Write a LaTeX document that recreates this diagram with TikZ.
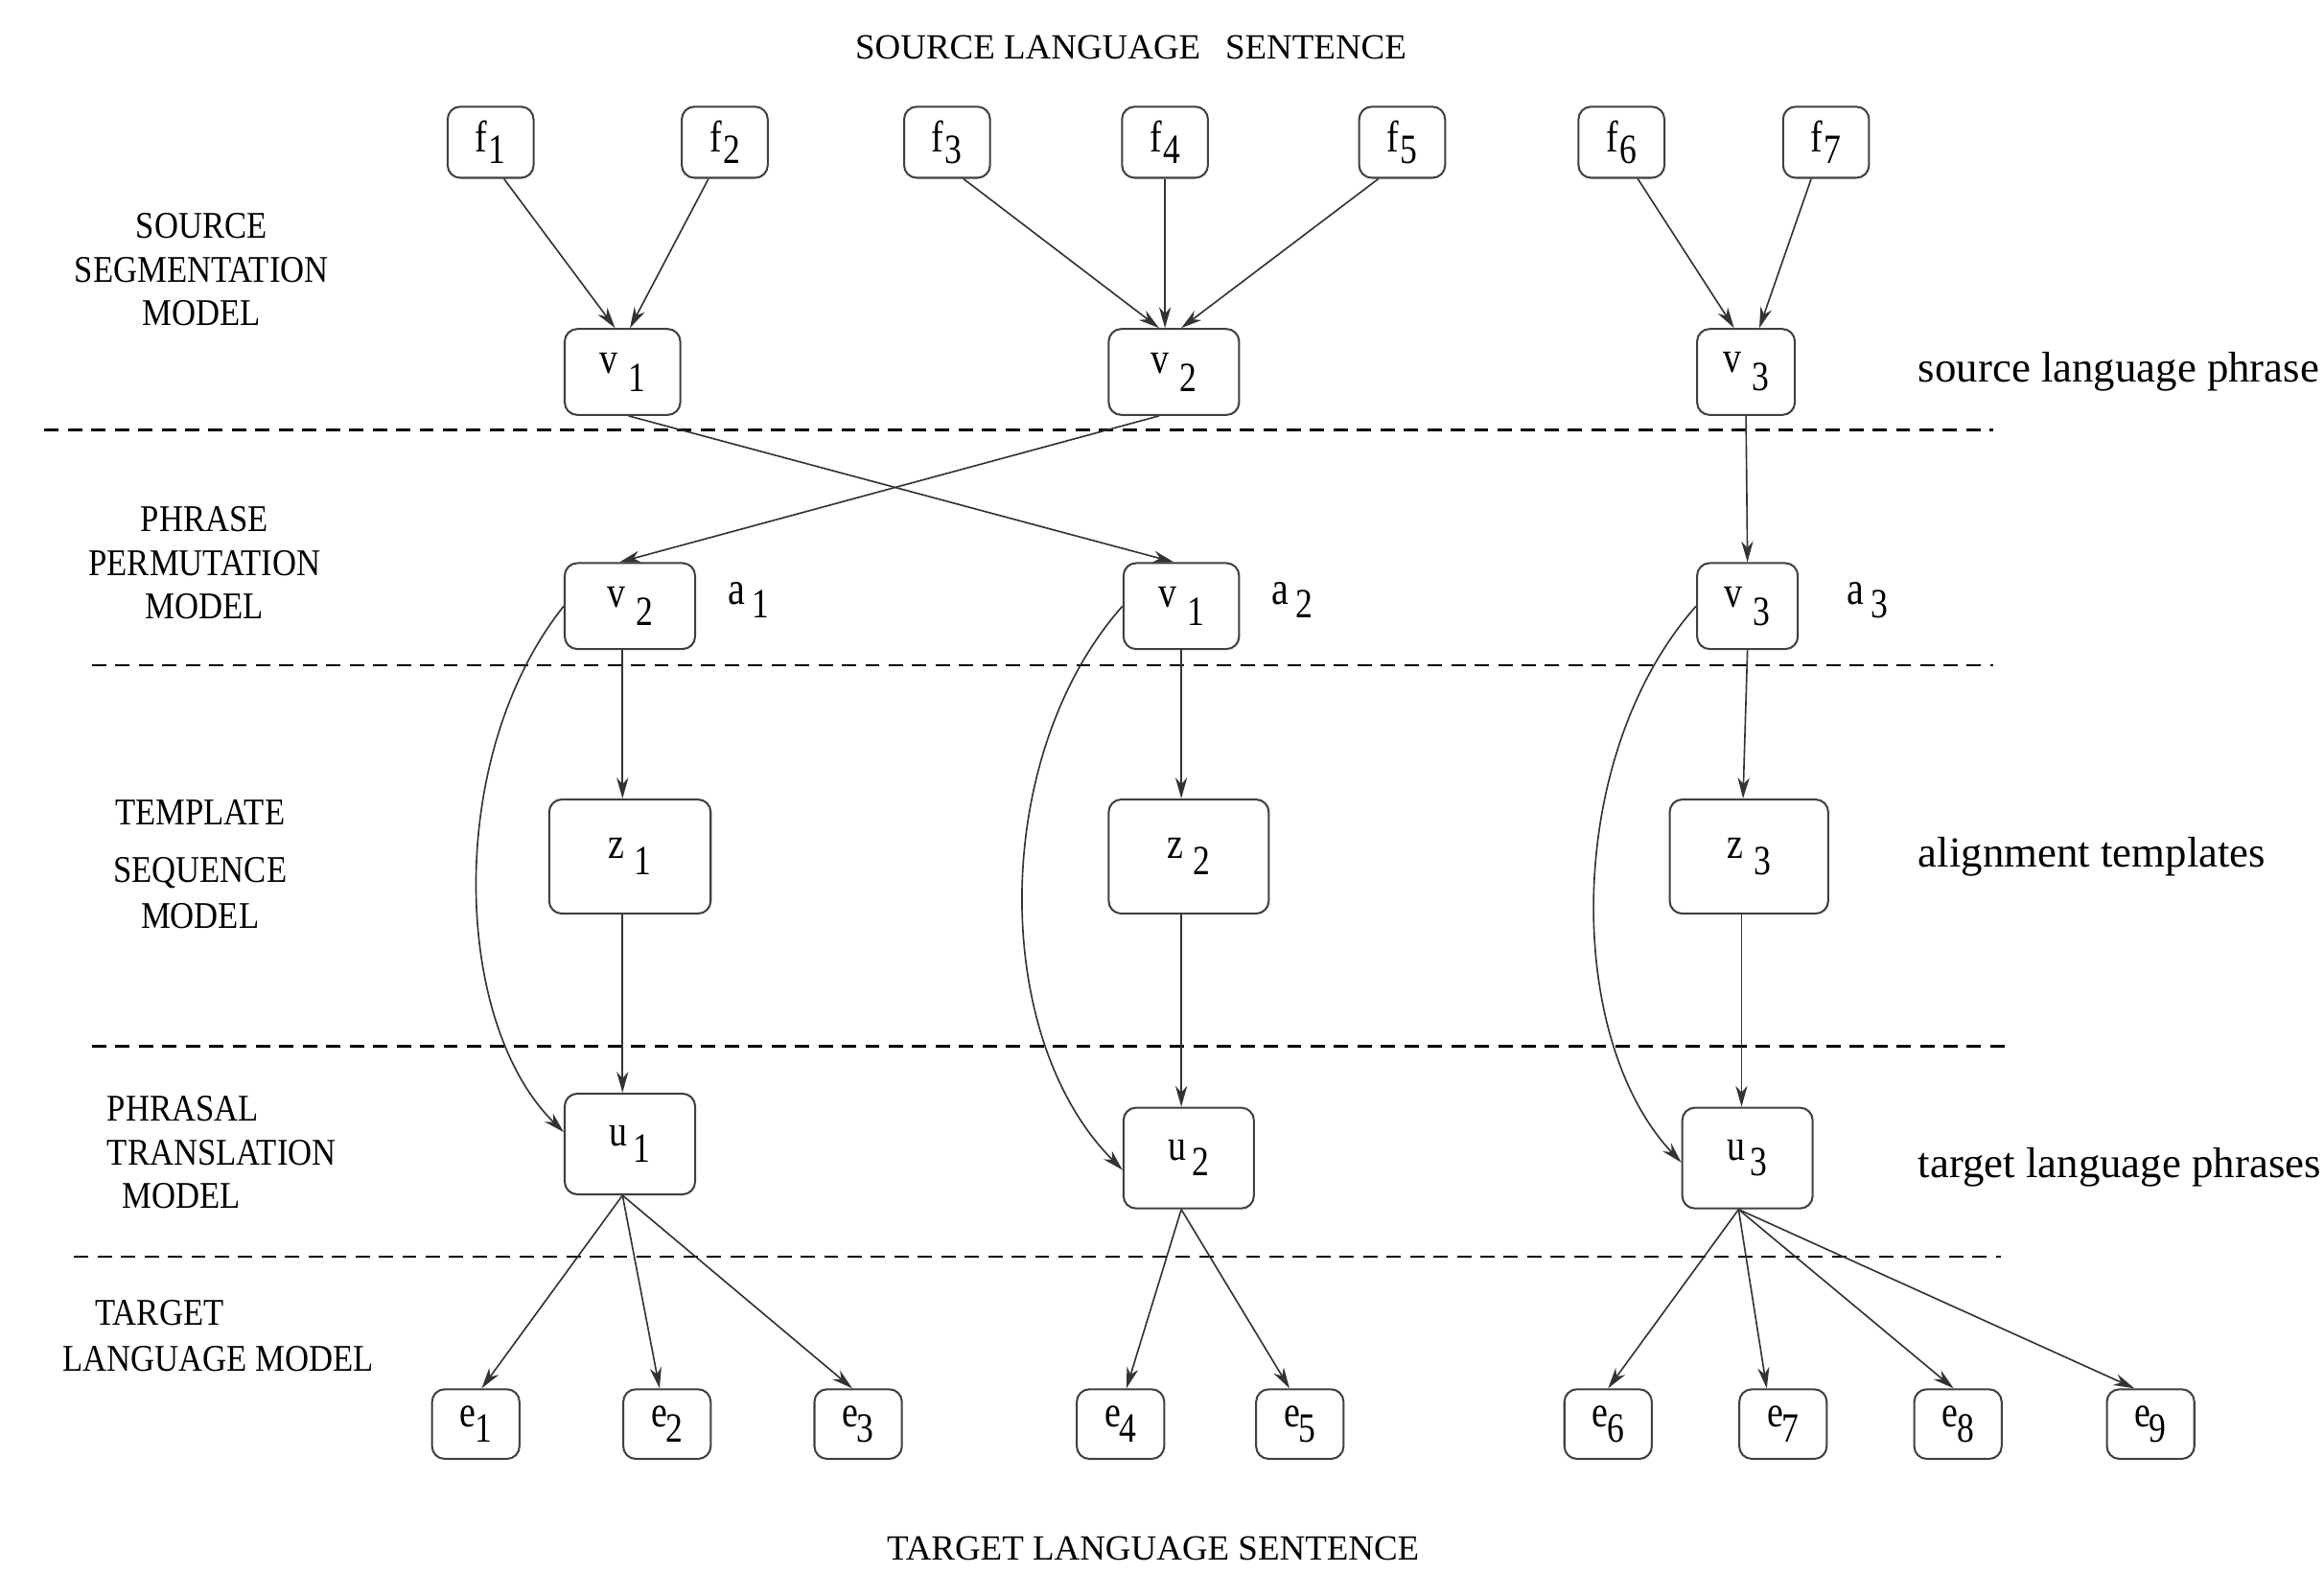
\documentclass[tikz,border=0pt]{standalone}
\usepackage{fontspec}
\setmainfont{Liberation Serif}
\newfontfamily\capsfont{Liberation Serif}[FakeStretch=0.88]
\newfontfamily\nodefnt{Liberation Serif}[FakeStretch=0.82]
\usetikzlibrary{arrows.meta,calc}
\newcommand{\lbl}[4]{#1\hspace{#3}\raisebox{#4}{\nodefnt\fontsize{16}{16}\selectfont #2}}
\tikzset{
  box/.style={draw=black!75, line width=0.75pt, rounded corners=0.17cm, inner sep=0pt,
    font=\nodefnt\fontsize{17}{18}\selectfont},
  fnode/.style={box, minimum width=1.16cm, minimum height=0.96cm},
  vnode/.style={box, minimum height=1.16cm},
  znode/.style={box, minimum height=1.54cm},
  unode/.style={box, minimum width=1.76cm, minimum height=1.36cm},
  enode/.style={box, minimum width=1.18cm, minimum height=0.94cm},
  arr/.style={draw=black!80, line width=0.6pt, -{Stealth[length=8pt,width=4.5pt,inset=2.5pt]}},
  sepline/.style={draw=black, line width=1pt, dash pattern=on 5.5pt off 3.5pt},
  capslbl/.style={inner sep=0pt, font=\capsfont\fontsize{14.5}{16.8}\selectfont},
  toplbl/.style={inner sep=0pt, font=\fontsize{13.6}{16}\selectfont},
  rlbl/.style={inner sep=0pt, anchor=west, font=\fontsize{16.5}{18}\selectfont},
  alab/.style={inner sep=0pt, font=\nodefnt\fontsize{18}{19}\selectfont}
}
\begin{document}
\begin{tikzpicture}[x=0.02cm, y=-0.02cm]
\fill[white] (0,0) rectangle (1568,1061);
\useasboundingbox (0,0) rectangle (1568,1061);

% separators
\draw[sepline] (30,290) -- (1345,290);
\draw[sepline] (62,449) -- (1345,449);
\draw[sepline] (62,706) -- (1355,706);
\draw[sepline] (50,848) -- (1350,848);

% titles
\node[toplbl] (src) at (763,32) {SOURCE LANGUAGE\hspace{0.7em}SENTENCE};
\node[toplbl] (tgt) at (778,1045) {TARGET LANGUAGE SENTENCE};

% left labels
\node[capslbl, align=center] (lseg) at (136,182) {SOURCE\\SEGMENTATION\\MODEL};
\node[capslbl, align=center] (lperm) at (138,380) {PHRASE\\PERMUTATION\\MODEL};
\node[capslbl] (ltpl) at (135,548) {TEMPLATE};
\node[capslbl] (lseq) at (135,589) {SEQUENCE};
\node[capslbl] (lmod) at (135,618) {MODEL};
\node[capslbl, anchor=west] (lphr) at (72,748) {PHRASAL};
\node[capslbl, anchor=west] (ltra) at (72,778) {TRANSLATION};
\node[capslbl, anchor=west] (lmod2) at (82,807) {MODEL};
\node[capslbl, anchor=west] (ltar) at (64,886) {TARGET};
\node[capslbl, anchor=west] (llm) at (42,917) {LANGUAGE MODEL};

% right labels
\node[rlbl] (rsrc) at (1294,251) {source language phrase};
\node[rlbl] (ralig) at (1294,578) {alignment templates};
\node[rlbl] (rtgt) at (1294,788) {target language phrases};

% f nodes
\node[fnode] (f1) at (331,96) {\lbl{f}{1}{0.5pt}{-4.5pt}};
\node[fnode] (f2) at (489,96) {\lbl{f}{2}{0.5pt}{-4.5pt}};
\node[fnode] (f3) at (639,96) {\lbl{f}{3}{0.5pt}{-4.5pt}};
\node[fnode] (f4) at (786,96) {\lbl{f}{4}{0.5pt}{-4.5pt}};
\node[fnode] (f5) at (946,96) {\lbl{f}{5}{0.5pt}{-4.5pt}};
\node[fnode] (f6) at (1094,96) {\lbl{f}{6}{0.5pt}{-4.5pt}};
\node[fnode] (f7) at (1232,96) {\lbl{f}{7}{0.5pt}{-4.5pt}};

% v nodes row 1
\node[vnode, minimum width=1.56cm] (v1) at (420,251) {\lbl{v}{1}{4pt}{-7pt}};
\node[vnode, minimum width=1.76cm] (v2) at (792,251) {\lbl{v}{2}{4pt}{-7pt}};
\node[vnode, minimum width=1.32cm] (v3) at (1178,251) {\lbl{v}{3}{4pt}{-7pt}};

% v nodes row 2
\node[vnode, minimum width=1.76cm] (v2p) at (425,409) {\lbl{v}{2}{4pt}{-7pt}};
\node[vnode, minimum width=1.56cm] (v1p) at (797,409) {\lbl{v}{1}{4pt}{-7pt}};
\node[vnode, minimum width=1.36cm] (v3p) at (1179,409) {\lbl{v}{3}{4pt}{-7pt}};
\node[alab] (a1) at (505,405) {\lbl{a}{1}{2.5pt}{-5pt}};
\node[alab] (a2) at (872,405) {\lbl{a}{2}{2.5pt}{-5pt}};
\node[alab] (a3) at (1260,405) {\lbl{a}{3}{2.5pt}{-5pt}};

% z nodes
\node[znode, minimum width=2.18cm] (z1) at (425,578) {\lbl{z}{1}{4pt}{-6pt}};
\node[znode, minimum width=2.16cm] (z2) at (802,578) {\lbl{z}{2}{4pt}{-6pt}};
\node[znode, minimum width=2.14cm] (z3) at (1180,578) {\lbl{z}{3}{4pt}{-6pt}};

% u nodes
\node[unode] (u1) at (425,772) {\lbl{u}{1}{2pt}{-6pt}};
\node[unode] (u2) at (802,781.5) {\lbl{u}{2}{2pt}{-6pt}};
\node[unode] (u3) at (1179,781.5) {\lbl{u}{3}{2pt}{-6pt}};

% e nodes
\node[enode] (e1) at (321,961) {\lbl{e}{1}{-0.5pt}{-6pt}};
\node[enode] (e2) at (450,961) {\lbl{e}{2}{-0.5pt}{-6pt}};
\node[enode] (e3) at (579,961) {\lbl{e}{3}{-0.5pt}{-6pt}};
\node[enode] (e4) at (756,961) {\lbl{e}{4}{-0.5pt}{-6pt}};
\node[enode] (e5) at (877,961) {\lbl{e}{5}{-0.5pt}{-6pt}};
\node[enode] (e6) at (1085,961) {\lbl{e}{6}{-0.5pt}{-6pt}};
\node[enode] (e7) at (1203,961) {\lbl{e}{7}{-0.5pt}{-6pt}};
\node[enode] (e8) at (1321,961) {\lbl{e}{8}{-0.5pt}{-6pt}};
\node[enode] (e9) at (1451,961) {\lbl{e}{9}{-0.5pt}{-6pt}};

% f -> v
\draw[arr] ($(f1.south)+(9,0)$) -- ($(v1.north)+(-5,0)$);
\draw[arr] ($(f2.south)+(-11,0)$) -- ($(v1.north)+(5,0)$);
\draw[arr] ($(f3.south)+(11,0)$) -- ($(v2.north)+(-10,0)$);
\draw[arr] (f4.south) -- (f4.south |- v2.north);
\draw[arr] ($(f5.south)+(-16,0)$) -- ($(v2.north)+(5,0)$);
\draw[arr] ($(f6.south)+(11,0)$) -- ($(v3.north)+(-8,0)$);
\draw[arr] ($(f7.south)+(-10,0)$) -- ($(v3.north)+(9,0)$);

% permutation
\draw[arr] ($(v1.south)+(4,0)$) -- ($(v1p.north)+(-5,0)$);
\draw[arr] ($(v2.south)+(-10,0)$) -- ($(v2p.north)+(-7,0)$);
\draw[arr] (v3.south) -- (v3p.north);

% v -> z
\draw[arr] ($(v2p.south)+(-5,0)$) -- ($(z1.north)+(-5,0)$);
\draw[arr] (v1p.south) -- ($(z2.north)+(-5,0)$);
\draw[arr] (v3p.south) -- ($(z3.north)+(-4,0)$);

% z -> u
\draw[arr] ($(z1.south)+(-5,0)$) -- ($(u1.north)+(-5,0)$);
\draw[arr] ($(z2.south)+(-5,0)$) -- ($(u2.north)+(-5,0)$);
\draw[arr] ($(z3.south)+(-5,0)$) -- ($(u3.north)+(-4,0)$);

% curved v -> u
\draw[arr] (v2p.west) .. controls (300,510) and (305,690) .. ($(u1.west)+(0,-8)$);
\draw[arr] (v1p.west) .. controls (668,510) and (668,700) .. ($(u2.west)+(0,8)$);
\draw[arr] (v3p.west) .. controls (1055,510) and (1055,700) .. ($(u3.west)+(0,3)$);

% u -> e
\draw[arr] ($(u1.south)+(-5,0)$) -- ($(e1.north)+(4,0)$);
\draw[arr] ($(u1.south)+(-5,0)$) -- ($(e2.north)+(-5,0)$);
\draw[arr] ($(u1.south)+(-5,0)$) -- ($(e3.north)+(-4,0)$);
\draw[arr] ($(u2.south)+(-5,0)$) -- ($(e4.north)+(4,0)$);
\draw[arr] ($(u2.south)+(-5,0)$) -- ($(e5.north)+(-7,0)$);
\draw[arr] ($(u3.south)+(-6,0)$) -- (e6.north);
\draw[arr] ($(u3.south)+(-6,0)$) -- ($(e7.north)+(-11,0)$);
\draw[arr] ($(u3.south)+(-6,0)$) -- ($(e8.north)+(-3,0)$);
\draw[arr] ($(u3.south)+(-6,0)$) -- ($(e9.north)+(-11,0)$);
\end{tikzpicture}
\end{document}
